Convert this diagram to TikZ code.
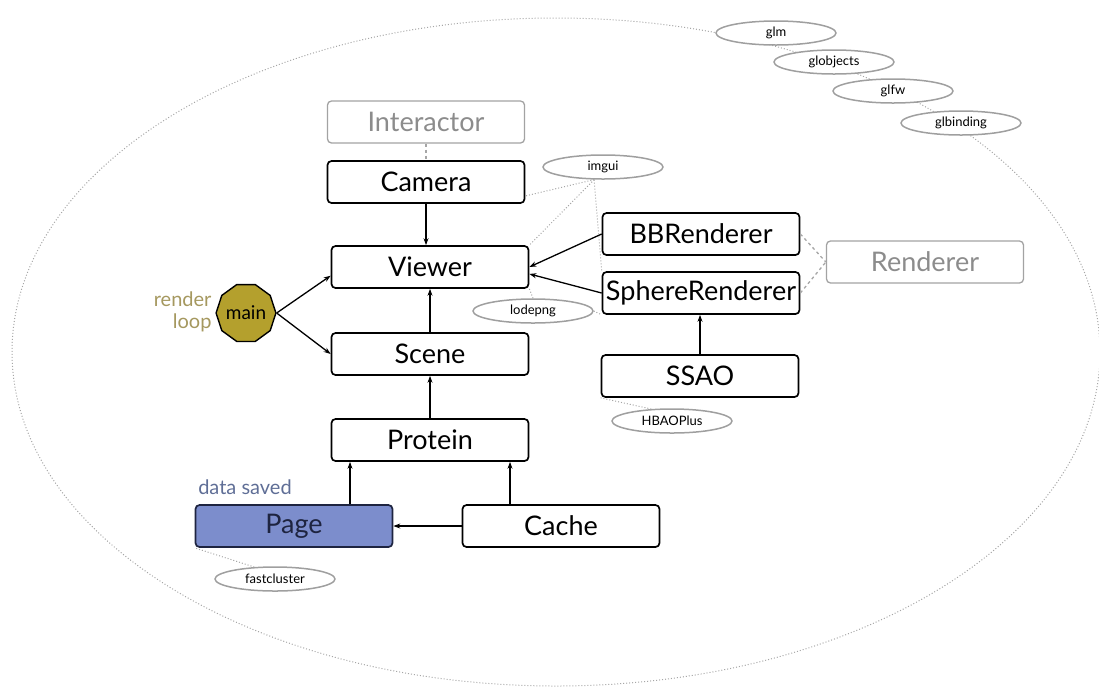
\documentclass[tikz,border=0pt]{standalone}
\usepackage{fontspec}
\setmainfont{Lato}
\usetikzlibrary{shapes.geometric,arrows.meta}
\definecolor{pagefill}{RGB}{124,141,204}
\definecolor{pageline}{RGB}{30,36,64}
\definecolor{mainfill}{RGB}{180,160,45}
\definecolor{loopcol}{RGB}{165,152,95}
\definecolor{savedcol}{RGB}{95,110,150}
\definecolor{ghost}{RGB}{140,140,140}

\begin{document}
\begin{tikzpicture}[x=1pt, y=-1pt,
    class/.style={rectangle, rounded corners=4pt, draw, line width=1.7pt, minimum width=197pt, minimum height=42pt, inner sep=0pt, font=\fontsize{27}{27}\selectfont},
    ghostclass/.style={class, draw=ghost!80, line width=1.3pt, text=ghost},
    lib/.style={ellipse, draw=gray!75, line width=1.5pt, fill=white, minimum width=120pt, minimum height=24pt, inner sep=0pt, font=\fontsize{13}{13}\selectfont},
    arrow/.style={-{Stealth[length=7pt,width=5pt]}, line width=1.3pt},
    uses/.style={dotted, gray!70, line width=1pt},
    inherits/.style={dashed, gray!70, line width=1.3pt}]
    \useasboundingbox (0,0) rectangle (1099,689);
    \draw[uses] (556,352) ellipse [x radius=544pt, y radius=334pt];

    \node[ghostclass] (interactor) at (426,122) {Interactor};
    \node[class] (camera) at (426,182) {Camera};
    \node[class] (viewer) at (430,267) {Viewer};
    \node[class] (scene) at (430,354) {Scene};
    \node[class] (protein) at (430,440) {Protein};
    \node[class, fill=pagefill, draw=pageline, text=pageline] (page) at (294,526) {Page};
    \node[class] (cache) at (561,526) {Cache};
    \node[class] (bbrenderer) at (701,234) {BBRenderer};
    \node[class] (sphererenderer) at (701,293) {SphereRenderer};
    \node[class] (ssao) at (700,376) {SSAO};
    \node[ghostclass] (renderer) at (925,262) {Renderer};
    \node[regular polygon, regular polygon sides=10, draw, line width=1.4pt, fill=mainfill, minimum size=57pt, inner sep=0pt, font=\fontsize{19}{19}\selectfont] (main) at (246,313) {main};
    \node[align=right, text=loopcol, anchor=east, font=\fontsize{20}{22}\selectfont] (loop) at (215,312) {render\\loop};
    \node[text=savedcol, font=\fontsize{20}{20}\selectfont] (saved) at (245,487) {data saved};

    \node[lib] (glm) at (776,33) {glm};
    \node[lib] (globjects) at (834,62) {globjects};
    \node[lib] (glfw) at (893,91) {glfw};
    \node[lib] (glbinding) at (961,123) {glbinding};
    \node[lib] (imgui) at (603,167) {imgui};
    \node[lib] (lodepng) at (533,311) {lodepng};
    \node[lib] (hbaoplus) at (672,421) {HBAOPlus};
    \node[lib] (fastcluster) at (275,579) {fastcluster};

    \draw[inherits] (interactor) -- (camera);
    \draw[inherits] (bbrenderer.east) -- (renderer.west);
    \draw[inherits] (sphererenderer.east) -- (renderer.west);

    \draw[arrow] (camera.south) -- (camera.south |- viewer.north);
    \draw[arrow] (scene) -- (viewer);
    \draw[arrow] (protein) -- (scene);
    \draw[arrow] ([xshift=-80pt]protein.south |- page.north) -- ([xshift=-80pt]protein.south);
    \draw[arrow] ([xshift=80pt]protein.south |- cache.north) -- ([xshift=80pt]protein.south);
    \draw[arrow] (cache) -- (page);
    \draw[arrow] (main.east) -- (viewer.185);
    \draw[arrow] (main.east) -- (scene.west);
    \draw[arrow] (bbrenderer.west) -- (viewer.east);
    \draw[arrow] (sphererenderer.west) -- (viewer.356);
    \draw[arrow] (ssao.north) -- (ssao.north |- sphererenderer.south);

    \draw[uses] (imgui.235) -- (camera.352);
    \draw[uses] (imgui.235) -- (viewer.north east);
    \draw[uses] (imgui.235) -- (sphererenderer.north west);
    \draw[uses] (lodepng.north) -- (viewer.south east);
    \draw[uses] (lodepng.east) -- (sphererenderer.south west);
    \draw[uses] (fastcluster.150) -- (page.south west);
    \draw[uses] (hbaoplus.150) -- (ssao.south west);
\end{tikzpicture}
\end{document}
